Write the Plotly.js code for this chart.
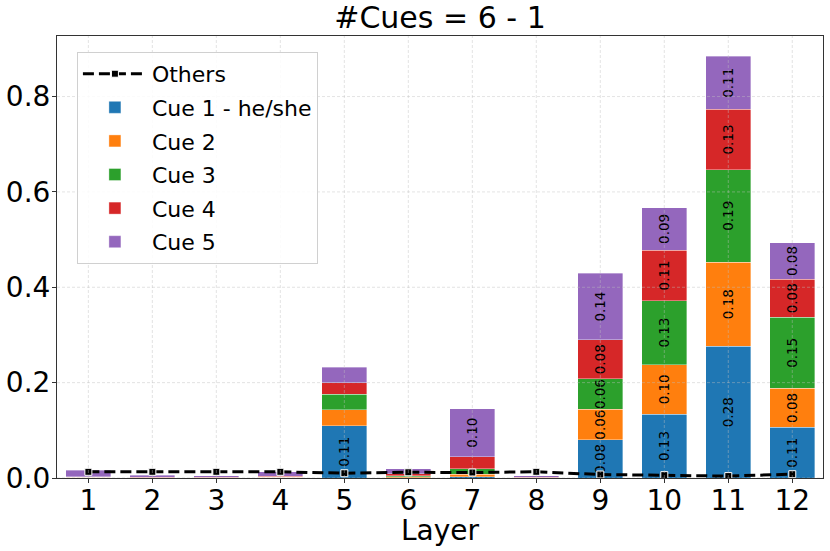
<!DOCTYPE html>
<html>
<head>
<meta charset="utf-8">
<script src="https://cdn.plot.ly/plotly-3.0.1.min.js"></script>
<style>
  html, body { margin: 0; padding: 0; background: #fff; }
  #chart { width: 830px; height: 551px; }
</style>
</head>
<body>
<div id="chart"></div>
<script>
const layers = [1, 2, 3, 4, 5, 6, 7, 8, 9, 10, 11, 12];
const cue1 = [0.0005, 0.0003, 0.0003, 0.0005, 0.110, 0.001, 0.003, 0.0002, 0.080, 0.134, 0.276, 0.106];
const cue2 = [0.001, 0.0003, 0.0003, 0.001, 0.033, 0.002, 0.005, 0.0002, 0.064, 0.104, 0.177, 0.082];
const cue3 = [0.0005, 0.0003, 0.0003, 0.0005, 0.033, 0.002, 0.011, 0.0002, 0.064, 0.134, 0.194, 0.149];
const cue4 = [0.001, 0.0005, 0.001, 0.002, 0.024, 0.004, 0.026, 0.0005, 0.082, 0.106, 0.126, 0.080];
const cue5 = [0.013, 0.004, 0.003, 0.009, 0.032, 0.010, 0.100, 0.004, 0.139, 0.089, 0.112, 0.076];
const others = [0.013, 0.013, 0.013, 0.013, 0.010, 0.012, 0.0115, 0.013, 0.0073, 0.006, 0.004, 0.008];
const yTicks = [0, 0.2, 0.4, 0.6, 0.8];

const cues = [
  { name: 'Cue 1 - he/she', y: cue1, color: '#1f77b4' },
  { name: 'Cue 2', y: cue2, color: '#ff7f0e' },
  { name: 'Cue 3', y: cue3, color: '#2ca02c' },
  { name: 'Cue 4', y: cue4, color: '#d62728' },
  { name: 'Cue 5', y: cue5, color: '#9467bd' }
];

const font = 'DejaVu Sans, sans-serif';

// stacked bars, label only the bigger pieces
const traces = cues.map((c, i) => ({
  type: 'bar',
  x: layers,
  y: c.y,
  name: c.name,
  legendgroup: 'g' + (i + 2),
  width: 0.7,
  marker: { color: c.color, line: { color: 'rgba(255,255,255,0.45)', width: 0.8 } },
  text: c.y.map(v => v >= 0.05 ? v.toFixed(2) : ''),
  textposition: 'inside',
  insidetextanchor: 'middle',
  textangle: -90,
  constraintext: 'none',
  insidetextfont: { family: font, size: 13.5, color: '#000' },
  legendrank: i + 2,
  hoverinfo: 'x+y+name'
}));

traces.push({
  type: 'scatter',
  mode: 'lines+markers',
  x: layers,
  y: others,
  name: 'Others',
  legendgroup: 'g1',
  line: { color: '#000', width: 3, dash: '11px,5px' },
  marker: { symbol: 'square', size: 7, color: '#000', line: { color: '#fff', width: 1 } },
  legendrank: 1
});

// grid drawn over the bars like the original
const gridStyle = { color: 'rgba(190,190,190,0.55)', width: 0.8, dash: '3px,2px' };
const shapes = [];
layers.forEach(l => shapes.push({ type: 'line', xref: 'x', yref: 'paper', x0: l, x1: l, y0: 0, y1: 1, line: gridStyle, layer: 'above' }));
yTicks.forEach(t => shapes.push({ type: 'line', xref: 'paper', yref: 'y', x0: 0, x1: 1, y0: t, y1: t, line: gridStyle, layer: 'above' }));

const layout = {
  width: 830,
  height: 551,
  margin: { l: 57, r: 7, t: 36, b: 72.5 },
  paper_bgcolor: '#fff',
  plot_bgcolor: '#fff',
  font: { family: font, color: '#000' },
  barmode: 'stack',
  showlegend: true,
  title: {
    text: '#Cues = 6 - 1',
    font: { family: font, size: 30, color: '#000' },
    x: 0.5, xref: 'paper', xanchor: 'center',
    y: 0.968, yref: 'container', yanchor: 'middle'
  },
  xaxis: {
    range: [0.51, 12.48],
    tickvals: layers,
    ticktext: layers.map(String),
    showgrid: false,
    zeroline: false,
    showline: true, mirror: true, linecolor: '#333', linewidth: 1,
    ticks: 'outside', ticklen: 4, tickcolor: '#333',
    ticklabelstandoff: -7,
    tickfont: { family: font, size: 28, color: '#000' }
  },
  yaxis: {
    range: [0, 0.927],
    tickvals: yTicks,
    tickformat: '.1f',
    showgrid: false,
    zeroline: false,
    showline: true, mirror: true, linecolor: '#333', linewidth: 1,
    ticks: 'outside', ticklen: 4, tickcolor: '#333',
    ticklabelstandoff: -4,
    tickfont: { family: font, size: 28, color: '#000' }
  },
  legend: {
    x: 0.026, y: 0.964, xanchor: 'left', yanchor: 'top',
    bgcolor: 'rgba(255,255,255,0.85)',
    bordercolor: '#d0d0d0', borderwidth: 1,
    font: { family: font, size: 22, color: '#000' },
    traceorder: 'grouped',
    tracegroupgap: 2,
    itemwidth: 64
  },
  annotations: [{
    text: 'Layer',
    xref: 'paper', yref: 'paper',
    x: 0.5, y: -0.118,
    xanchor: 'center', yanchor: 'middle',
    showarrow: false,
    font: { family: font, size: 28, color: '#000' }
  }],
  shapes: shapes
};

Plotly.newPlot('chart', traces, layout, { displayModeBar: false, staticPlot: true });
</script>
</body>
</html>
